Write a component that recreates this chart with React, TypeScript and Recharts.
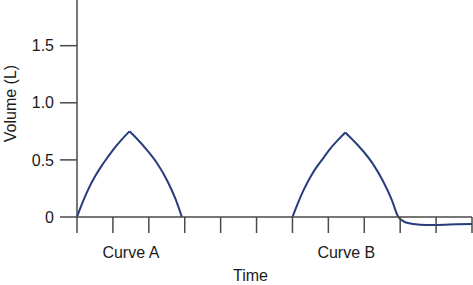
import React from 'react';
import { LineChart, Line, XAxis, YAxis } from 'recharts';

// Curve A: one breath, time in tick units, volume in litres
const curveATime = [0, 0.13, 0.31, 0.5, 0.69, 0.87, 1.06, 1.25, 1.46, 1.67, 1.95, 2.23, 2.51, 2.74, 2.92];
const curveAVolume = [0, 0.108, 0.24, 0.355, 0.45, 0.53, 0.61, 0.68, 0.75, 0.685, 0.585, 0.47, 0.32, 0.16, 0];

// Curve B: same breath, then the trace settles just below zero
const curveBTime = [6.0, 6.13, 6.31, 6.5, 6.69, 6.88, 7.07, 7.27, 7.47, 7.68, 7.96, 8.24, 8.52, 8.76, 8.95, 9.03, 9.14, 9.37, 9.74, 10.02, 10.58, 11];
const curveBVolume = [0, 0.105, 0.235, 0.35, 0.445, 0.525, 0.605, 0.675, 0.74, 0.675, 0.58, 0.465, 0.315, 0.155, 0, -0.025, -0.046, -0.061, -0.07, -0.07, -0.064, -0.061];

const timeTicks = [0, 1, 2, 3, 4, 5, 6, 7, 8, 9, 10, 11];
const curveLabels = [
  { t: 1.5, label: 'Curve A' },
  { t: 7.5, label: 'Curve B' },
];
const volumeTicks = [0, 0.5, 1, 1.5];

// split each curve at its peak so the tip stays sharp while each side is smooth
const toPoints = (times: number[], vols: number[]) => times.map((t, i) => ({ t, v: vols[i] }));
const splitAtPeak = (pts: { t: number; v: number }[]) => {
  let peak = 0;
  pts.forEach((p, i) => { if (p.v > pts[peak].v) peak = i; });
  return [pts.slice(0, peak + 1), pts.slice(peak)];
};

const segments = [
  ...splitAtPeak(toPoints(curveATime, curveAVolume)),
  ...splitAtPeak(toPoints(curveBTime, curveBVolume)),
];

const FONT = '"Liberation Sans", Arial, Helvetica, sans-serif';
const AXIS = '#4a4a4a';
const TEXT = '#1a1a1a';
const CURVE = '#263d7d';
const TICK = 16;
const FS = 16;

const TimeTick = (props: any) => {
  const { x, y, payload } = props;
  const named = curveLabels.find(c => c.t === payload.value);
  if (named) {
    return (
      <text x={x} y={y + 25} textAnchor="middle" fill={TEXT} fontSize={FS} fontFamily={FONT}>
        {named.label}
      </text>
    );
  }
  return <line x1={x} y1={y - TICK} x2={x} y2={y} stroke={AXIS} strokeWidth={1.5} />;
};

export default function App() {
  return (
    <div style={{ position: 'absolute', left: 0, top: 0 }}>
      {/* let the dip below zero draw under the x axis */}
      <style>{'.recharts-surface [clip-path] { clip-path: none !important; }'}</style>
      <LineChart width={473} height={285} margin={{ top: 0, right: 1, bottom: 0, left: 0 }}>
        <XAxis
          type="number"
          dataKey="t"
          domain={[0, 11]}
          ticks={[...timeTicks, ...curveLabels.map(c => c.t)]}
          interval={0}
          height={68}
          tickSize={TICK}
          tickMargin={0}
          tickLine={false}
          tick={<TimeTick />}
          axisLine={{ stroke: AXIS, strokeWidth: 1.5 }}
          label={{ value: 'Time', position: 'insideBottom', offset: 4, dx: -24, fill: TEXT, fontSize: FS, fontFamily: FONT }}
        />
        <YAxis
          type="number"
          domain={[0, 1.9]}
          allowDataOverflow
          ticks={volumeTicks}
          interval={0}
          width={77}
          tickSize={17}
          tickMargin={6}
          tickFormatter={(v: number) => (v === 0 ? '0' : v.toFixed(1))}
          tick={{ fill: TEXT, fontSize: FS, fontFamily: FONT }}
          tickLine={{ stroke: AXIS, strokeWidth: 1.5 }}
          axisLine={{ stroke: AXIS, strokeWidth: 1.5 }}
          label={{
            value: 'Volume (L)',
            angle: -90,
            position: 'insideLeft',
            offset: 10,
            dy: -5,
            fill: TEXT,
            fontSize: FS,
            fontFamily: FONT,
            style: { textAnchor: 'middle' },
          }}
        />
        {segments.map((seg, i) => (
          <Line
            key={i}
            data={seg}
            dataKey="v"
            type="monotone"
            stroke={CURVE}
            strokeWidth={2}
            dot={false}
            isAnimationActive={false}
          />
        ))}
      </LineChart>
    </div>
  );
}
